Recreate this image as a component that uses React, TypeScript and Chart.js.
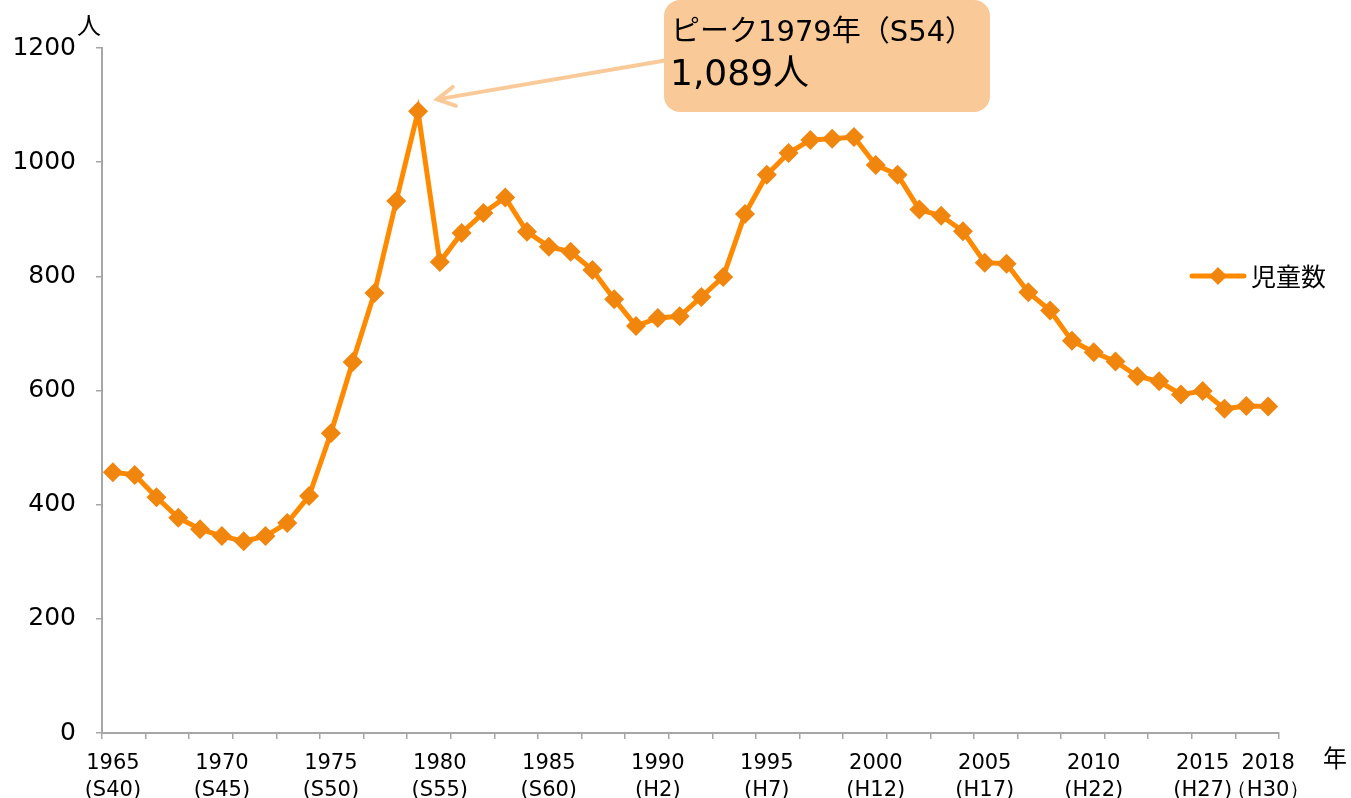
import React, { useEffect, useRef } from "react";
import { Chart, registerables } from "chart.js";

Chart.register(...registerables);

const years: string[] = [
  "1965", "1966", "1967", "1968", "1969", "1970", "1971", "1972", "1973", "1974",
  "1975", "1976", "1977", "1978", "1979", "1980", "1981", "1982", "1983", "1984",
  "1985", "1986", "1987", "1988", "1989", "1990", "1991", "1992", "1993", "1994",
  "1995", "1996", "1997", "1998", "1999", "2000", "2001", "2002", "2003", "2004",
  "2005", "2006", "2007", "2008", "2009", "2010", "2011", "2012", "2013", "2014",
  "2015", "2016", "2017", "2018",
];

const childCount: number[] = [
  457, 452, 413, 377, 357, 345, 336, 345, 368, 415,
  525, 650, 771, 932, 1089, 825, 876, 911, 938, 878,
  852, 843, 811, 760, 713, 727, 730, 764, 799, 909,
  978, 1016, 1039, 1041, 1044, 995, 978, 917, 906, 879,
  824, 822, 772, 740, 687, 667, 651, 625, 616, 593,
  599, 568, 573, 572,
];

const tickLabels: Record<string, string[]> = {
  "1965": ["1965", "(S40)"],
  "1970": ["1970", "(S45)"],
  "1975": ["1975", "(S50)"],
  "1980": ["1980", "(S55)"],
  "1985": ["1985", "(S60)"],
  "1990": ["1990", "(H2)"],
  "1995": ["1995", "(H7)"],
  "2000": ["2000", "(H12)"],
  "2005": ["2005", "(H17)"],
  "2010": ["2010", "(H22)"],
  "2015": ["2015", "(H27)"],
  "2018": ["2018", "（H30）"],
};

const seriesName = "児童数";
const yUnit = "人";
const xUnit = "年";
const calloutLine1 = "ピーク1979年（S54）";
const calloutLine2 = "1,089人";
const peakIndex = 14;

const LINE_COLOR = "#FF8A00";
const MARKER_COLOR = "#F0860E";
const AXIS_COLOR = "#A6A6A6";
const CALLOUT_COLOR = "#FAC998";
const JP_FONT = "'DejaVu Sans', 'Noto Sans CJK JP', sans-serif";

const overlayPlugin = {
  id: "overlay",
  afterDraw(chart: any) {
    const ctx = chart.ctx as CanvasRenderingContext2D;
    const meta = chart.getDatasetMeta(0);
    const peak = meta.data[peakIndex];
    ctx.save();

    // arrow
    const tipX = peak.x + 19;
    const tipY = peak.y - 12;
    const startX = 668;
    const startY = 60;
    ctx.strokeStyle = CALLOUT_COLOR;
    ctx.lineWidth = 4;
    ctx.lineCap = "round";
    ctx.beginPath();
    ctx.moveTo(startX, startY);
    ctx.lineTo(tipX, tipY);
    const ang = Math.atan2(startY - tipY, startX - tipX);
    const hl = 20;
    ctx.moveTo(tipX + hl * Math.cos(ang + 0.5), tipY + hl * Math.sin(ang + 0.5));
    ctx.lineTo(tipX, tipY);
    ctx.lineTo(tipX + hl * Math.cos(ang - 0.5), tipY + hl * Math.sin(ang - 0.5));
    ctx.stroke();

    // callout box
    ctx.fillStyle = CALLOUT_COLOR;
    ctx.beginPath();
    (ctx as any).roundRect(664, 0, 326, 112, 16);
    ctx.fill();

    ctx.fillStyle = "#000";
    ctx.textAlign = "left";
    ctx.textBaseline = "middle";
    ctx.font = `29px ${JP_FONT}`;
    ctx.fillText(calloutLine1, 671, 33);
    ctx.font = `36px ${JP_FONT}`;
    ctx.fillText(calloutLine2, 670, 76);

    // axis units
    ctx.font = `24px 'Noto Sans CJK JP', sans-serif`;
    ctx.textAlign = "center";
    ctx.fillText(yUnit, 89, 25);
    ctx.fillText(xUnit, 1335, 758);

    // legend
    const ly = 276;
    ctx.strokeStyle = LINE_COLOR;
    ctx.lineWidth = 5;
    ctx.lineCap = "round";
    ctx.beginPath();
    ctx.moveTo(1192, ly);
    ctx.lineTo(1244, ly);
    ctx.stroke();
    ctx.fillStyle = MARKER_COLOR;
    ctx.beginPath();
    ctx.moveTo(1218 - 9, ly);
    ctx.lineTo(1218, ly - 9);
    ctx.lineTo(1218 + 9, ly);
    ctx.lineTo(1218, ly + 9);
    ctx.closePath();
    ctx.fill();
    ctx.fillStyle = "#000";
    ctx.textAlign = "left";
    ctx.font = `25px 'Noto Sans CJK JP', sans-serif`;
    ctx.fillText(seriesName, 1251, ly);

    ctx.restore();
  },
};

export default function App() {
  const canvasRef = useRef<HTMLCanvasElement | null>(null);

  useEffect(() => {
    document.body.style.margin = "0";
    const canvas = canvasRef.current;
    if (!canvas) return;
    const chart = new Chart(canvas, {
      type: "line",
      data: {
        labels: years,
        datasets: [
          {
            label: seriesName,
            data: childCount,
            borderColor: LINE_COLOR,
            backgroundColor: MARKER_COLOR,
            borderWidth: 5,
            pointStyle: "rectRot",
            pointRadius: 10,
            pointBorderWidth: 0,
            pointBackgroundColor: MARKER_COLOR,
            pointBorderColor: MARKER_COLOR,
            tension: 0,
            fill: false,
          },
        ],
      },
      options: {
        responsive: false,
        animation: false,
        layout: { padding: { top: 48, right: 72, left: 0, bottom: 0 } },
        plugins: {
          legend: { display: false },
          tooltip: { enabled: false },
        },
        scales: {
          x: {
            type: "category",
            offset: true,
            grid: {
              offset: true,
              drawOnChartArea: false,
              drawTicks: true,
              tickLength: 6,
              lineWidth: 1.5,
              color: (c: any) =>
                c.index === undefined || c.index % 2 === 0 ? AXIS_COLOR : "rgba(0,0,0,0)",
            },
            border: { display: true, color: AXIS_COLOR, width: 2 },
            ticks: {
              autoSkip: false,
              maxRotation: 0,
              minRotation: 0,
              padding: 12,
              color: "#000",
              font: {
                family: "'DejaVu Sans', sans-serif",
                size: 21,
                lineHeight: 1.24,
              },
              callback: (_v: any, i: number) => tickLabels[years[i]] ?? "",
            },
            afterFit: (s: any) => {
              s.height = 65;
            },
          },
          y: {
            min: 0,
            max: 1200,
            ticks: {
              stepSize: 200,
              padding: 20,
              color: "#000",
              font: { family: "'DejaVu Sans', sans-serif", size: 25 },
              callback: (v: any) => String(v),
            },
            grid: {
              drawOnChartArea: false,
              drawTicks: true,
              tickLength: 6,
              lineWidth: 1.5,
              color: AXIS_COLOR,
            },
            border: { display: true, color: AXIS_COLOR, width: 2 },
            afterFit: (s: any) => {
              s.width = 102;
            },
          },
        },
      },
      plugins: [overlayPlugin],
    });
    return () => chart.destroy();
  }, []);

  return (
    <div style={{ width: 1351, height: 798, position: "relative", background: "#fff" }}>
      <canvas ref={canvasRef} width={1351} height={798} style={{ display: "block" }} />
    </div>
  );
}
